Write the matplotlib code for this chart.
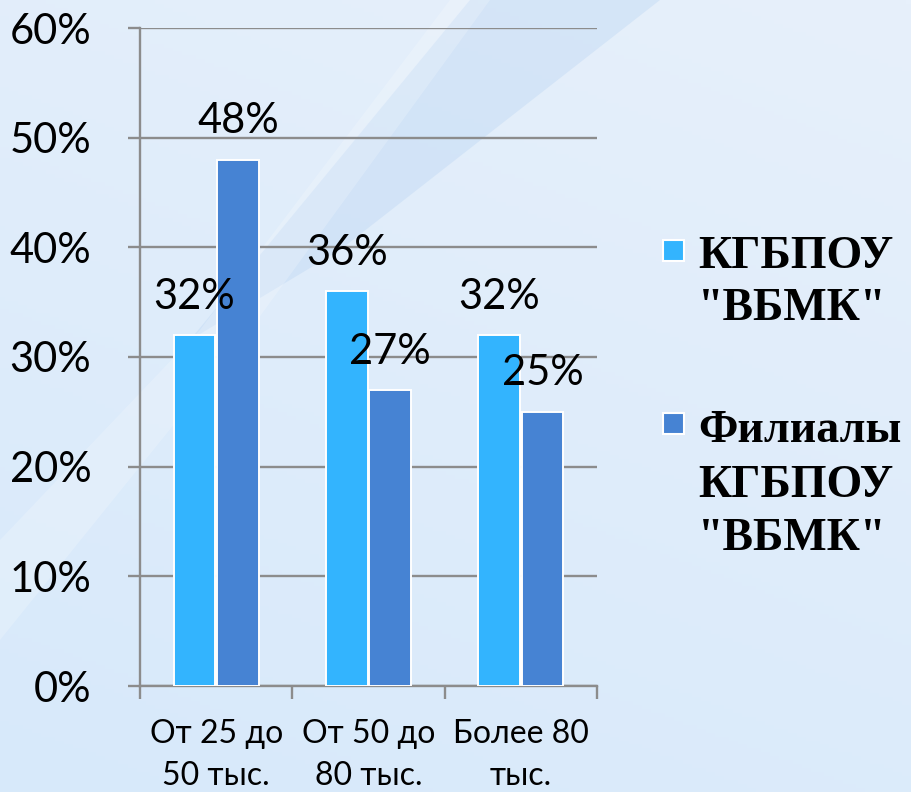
import matplotlib
matplotlib.use("Agg")
import matplotlib.pyplot as plt
import numpy as np
from matplotlib.patches import Rectangle, Polygon

categories = ["От 25 до\n50 тыс.", "От 50 до\n80 тыс.", "Более 80\nтыс."]
vbmk = [32, 36, 32]
filialy = [48, 27, 25]
series_names = [["КГБПОУ", "\"ВБМК\""], ["Филиалы", "КГБПОУ", "\"ВБМК\""]]
yticks = [0, 10, 20, 30, 40, 50, 60]

light = "#33B4FE"
dark = "#4683D3"
grid_c = "#8C8C8C"

W, H = 911, 792
fig = plt.figure(figsize=(W / 100, H / 100), dpi=100)


def px(pts):
    # пиксели картинки -> доли фигуры
    return [[x / W, 1 - y / H] for x, y in pts]


# фон: градиент + диагональные полосы
bg = fig.add_axes([0, 0, 1, 1], zorder=-10)
yy, xx = np.mgrid[0:1:200j, 0:1:200j]
top = np.array([231, 240, 251]) / 255
bot = np.array([215, 233, 250]) / 255
t = (0.7 * yy + 0.3 * (1 - xx))[..., None]
img = top * (1 - t) + bot * t
bg.imshow(img, extent=[0, 1, 0, 1], origin="upper", aspect="auto")
bg.add_patch(Polygon(px([(470, 0), (660, 0), (340, 250), (190, 340)]),
                     closed=True, facecolor="#BCD6F3", alpha=0.4, lw=0))
bg.add_patch(Polygon(px([(0, 640), (0, 540), (200, 330), (450, 0), (490, 0), (250, 330)]),
                     closed=True, facecolor="white", alpha=0.2, lw=0))
bg.set_xlim(0, 1)
bg.set_ylim(0, 1)
bg.axis("off")

ax = fig.add_axes([140 / W, 1 - 686 / H, (597 - 140) / W, (686 - 28) / H])
ax.patch.set_alpha(0)

x = np.arange(len(categories))
bw = 0.275
b1 = ax.bar(x - bw / 2 - 0.005, vbmk, bw, color=light, edgecolor="white", linewidth=1.4, zorder=3)
b2 = ax.bar(x + bw / 2 + 0.005, filialy, bw, color=dark, edgecolor="white", linewidth=1.4, zorder=3)

lab_font = dict(family=["Lato", "DejaVu Sans"], size=30, color="black")
for bars, vals in ((b1, vbmk), (b2, filialy)):
    for b, v in zip(bars, vals):
        ax.annotate("{}%".format(v), (b.get_x() + b.get_width() / 2, v),
                    xytext=(0, 19), textcoords="offset points",
                    ha="center", va="baseline", zorder=5, **lab_font)

ax.set_ylim(0, 60)
ax.set_xlim(-0.5, len(categories) - 0.5)
ax.set_yticks(yticks)
ax.set_yticklabels(["{}%".format(v) for v in yticks])
ax.yaxis.grid(True, color=grid_c, linewidth=1.7, zorder=0)
ax.set_axisbelow(True)

ax.set_xticks(x)
ax.set_xticklabels(categories, linespacing=1.48)
ax.set_xticks(np.arange(len(categories) + 1) - 0.5, minor=True)
ax.tick_params(axis="x", which="major", length=0, pad=24)
ax.tick_params(axis="x", which="minor", length=9, width=1.7, color=grid_c)
ax.tick_params(axis="y", length=9, width=1.7, color=grid_c, pad=26)

for lbl in ax.get_yticklabels():
    lbl.set_fontfamily(["Lato", "DejaVu Sans"])
    lbl.set_fontsize(30)
for lbl in ax.get_xticklabels():
    lbl.set_fontfamily(["Lato", "DejaVu Sans"])
    lbl.set_fontsize(23)

for s in ("top", "right"):
    ax.spines[s].set_visible(False)
for s in ("left", "bottom"):
    ax.spines[s].set_color(grid_c)
    ax.spines[s].set_linewidth(1.7)

# легенда
leg_font = dict(family=["Liberation Serif", "DejaVu Serif"], weight="bold", size=33, color="black")
squares = [(663, 240, light), (663, 413, dark)]
baselines = [[268, 320], [442, 497, 550]]
for (sx, sy, c), names, bls in zip(squares, series_names, baselines):
    fig.add_artist(Rectangle((sx / W, 1 - (sy + 21) / H), 21 / W, 21 / H,
                             transform=fig.transFigure, facecolor=c,
                             edgecolor="white", linewidth=1.5))
    for name, bl in zip(names, bls):
        fig.text(698 / W, 1 - bl / H, name, ha="left", va="baseline", **leg_font)

fig.savefig("out.png", dpi=100)
